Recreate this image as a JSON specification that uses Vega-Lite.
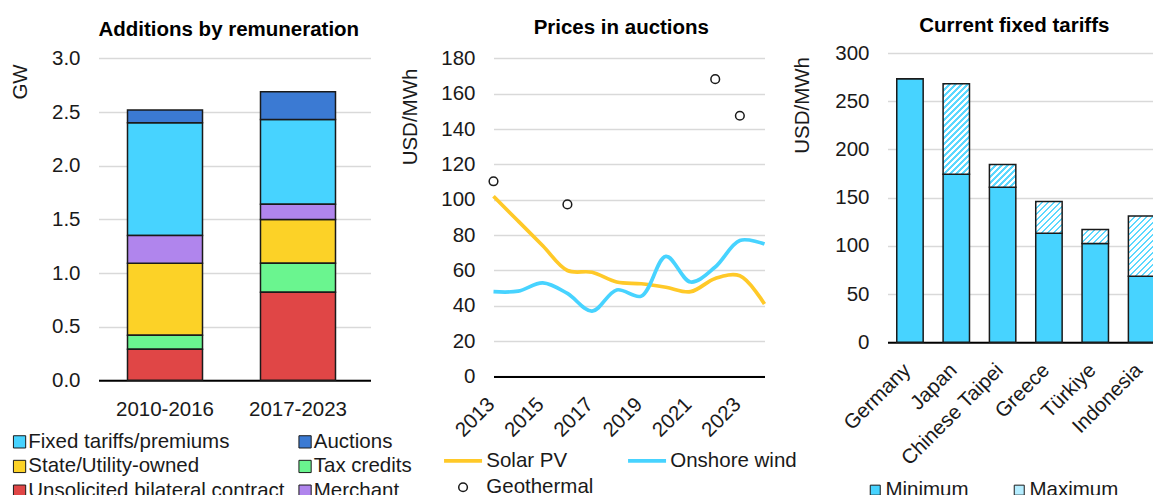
{
  "$schema": "https://vega.github.io/schema/vega-lite/v6.json",
  "padding": {"left": 8.5, "top": 16.1, "right": 0, "bottom": 0},
  "bounds": "flush",
  "spacing": 123,
  "resolve": {"scale": {"color": "independent", "fill": "independent"}, "legend": {"color": "independent", "fill": "independent"}},
  "config": {
    "font": "Liberation Sans",
    "view": {"stroke": null},
    "axis": {"labelFontSize": 20.5, "labelColor": "#1a1a1a", "titleFontSize": 20.5, "titleFontWeight": "normal", "titleColor": "#1a1a1a", "ticks": false, "gridColor": "#D9D9D9", "gridWidth": 1.5, "domainColor": "#000000", "domainWidth": 2, "labelOverlap": false},
    "legend": {"labelFontSize": 20.5, "labelColor": "#1a1a1a", "padding": 0, "labelLimit": 0, "direction": "horizontal"},
    "title": {"fontSize": 20.5, "fontWeight": "bold", "color": "#000000", "anchor": "middle", "frame": "group", "baseline": "alphabetic"}
  },
  "hconcat": [
    {
      "width": 272,
      "height": 327.2,
      "title": {"text": "Additions by remuneration", "offset": 7.9, "dx": -5.7},
      "data": {"values": [
        {"period": "2010-2016", "type": "Fixed tariffs/premiums", "gw": 1.05},
        {"period": "2010-2016", "type": "Auctions", "gw": 0.12},
        {"period": "2010-2016", "type": "State/Utility-owned", "gw": 0.67},
        {"period": "2010-2016", "type": "Tax credits", "gw": 0.13},
        {"period": "2010-2016", "type": "Unsolicited bilateral contract", "gw": 0.29},
        {"period": "2010-2016", "type": "Merchant", "gw": 0.26},
        {"period": "2017-2023", "type": "Fixed tariffs/premiums", "gw": 0.79},
        {"period": "2017-2023", "type": "Auctions", "gw": 0.26},
        {"period": "2017-2023", "type": "State/Utility-owned", "gw": 0.41},
        {"period": "2017-2023", "type": "Tax credits", "gw": 0.27},
        {"period": "2017-2023", "type": "Unsolicited bilateral contract", "gw": 0.82},
        {"period": "2017-2023", "type": "Merchant", "gw": 0.14}
      ]},
      "mark": {"type": "bar", "stroke": "#1a1a1a", "strokeWidth": 1.5},
      "encoding": {
        "x": {"field": "period", "type": "nominal", "scale": {"paddingInner": 0.436, "paddingOuter": 0.2406, "align": 0.453}, "axis": {"title": null, "labelAngle": 0, "labelPadding": 19, "grid": false, "domain": true}},
        "y": {"field": "gw", "type": "quantitative", "stack": "zero", "scale": {"domain": [0, 3.05], "nice": false}, "axis": {"title": "GW", "values": [0, 0.5, 1, 1.5, 2, 2.5, 3], "format": ".1f", "labelPadding": 18.5, "titlePadding": 21, "titleAnchor": "end", "titleY": 10.7, "domain": false, "grid": true}},
        "color": {"field": "type", "type": "nominal",
          "sort": ["Fixed tariffs/premiums", "Auctions", "State/Utility-owned", "Tax credits", "Unsolicited bilateral contract", "Merchant"],
          "scale": {"domain": ["Fixed tariffs/premiums", "Auctions", "State/Utility-owned", "Tax credits", "Unsolicited bilateral contract", "Merchant"], "range": ["#47D3FF", "#3B7AD3", "#FCD227", "#6AF58F", "#E04646", "#B085ED"]},
          "legend": {"title": null, "orient": "none", "direction": "horizontal", "legendX": -89.2, "legendY": 378.4, "columns": 2, "symbolType": "square", "symbolSize": 150, "symbolStrokeColor": "#1a1a1a", "symbolStrokeWidth": 1, "symbolOpacity": 1, "rowPadding": 3.7, "columnPadding": 9.5, "labelOffset": -1.5}}
      }
    },
    {
      "width": 271,
      "height": 323.4,
      "title": {"text": "Prices in auctions", "offset": 9.6, "dx": -7.7},
      "encoding": {
        "x": {"field": "year", "type": "quantitative", "scale": {"domain": [2013, 2024], "nice": false, "zero": false}, "axis": {"title": null, "values": [2013, 2015, 2017, 2019, 2021, 2023], "format": "d", "labelAngle": -45, "labelPadding": 17.4, "labelOffset": -9.6, "labelFlush": false, "grid": false, "domain": true}},
        "y": {"field": "price", "type": "quantitative", "scale": {"domain": [0, 183.06], "nice": false}, "axis": {"title": "USD/MWh", "values": [0, 20, 40, 60, 80, 100, 120, 140, 160, 180], "labelPadding": 18.5, "titlePadding": 20.5, "titleAnchor": "end", "titleY": 15, "domain": false, "grid": true}},
        "color": {"field": "series", "type": "nominal",
          "scale": {"domain": ["Solar PV", "Onshore wind", "Geothermal"], "range": ["#FFC928", "#47D3FF", "#1a1a1a"]},
          "legend": {"title": null, "orient": "none", "direction": "horizontal", "legendX": -40.7, "legendY": 397.4, "columns": 2, "symbolType": "stroke", "symbolSize": 1444, "symbolStrokeWidth": 3.7, "rowPadding": 5.5, "columnPadding": 26, "labelOffset": 13,
            "encode": {"symbols": {"update": {
              "shape": {"signal": "datum.value === 'Geothermal' ? 'circle' : 'stroke'"},
              "size": {"signal": "datum.value === 'Geothermal' ? 75 : 1444"},
              "strokeWidth": {"signal": "datum.value === 'Geothermal' ? 1.5 : 3.7"},
              "fill": {"value": "transparent"},
              "opacity": {"value": 1}
            }}}}}
      },
      "layer": [
        {
          "data": {"values": [
            {"year": 2013, "series": "Solar PV", "price": 102},
            {"year": 2014, "series": "Solar PV", "price": 88},
            {"year": 2015, "series": "Solar PV", "price": 74},
            {"year": 2016, "series": "Solar PV", "price": 60},
            {"year": 2017, "series": "Solar PV", "price": 59},
            {"year": 2018, "series": "Solar PV", "price": 53.5},
            {"year": 2019, "series": "Solar PV", "price": 52.5},
            {"year": 2020, "series": "Solar PV", "price": 50.5},
            {"year": 2021, "series": "Solar PV", "price": 48},
            {"year": 2022, "series": "Solar PV", "price": 55.5},
            {"year": 2023, "series": "Solar PV", "price": 57},
            {"year": 2024, "series": "Solar PV", "price": 41},
            {"year": 2013, "series": "Onshore wind", "price": 48},
            {"year": 2014, "series": "Onshore wind", "price": 48.3},
            {"year": 2015, "series": "Onshore wind", "price": 53},
            {"year": 2016, "series": "Onshore wind", "price": 47},
            {"year": 2017, "series": "Onshore wind", "price": 37},
            {"year": 2018, "series": "Onshore wind", "price": 49},
            {"year": 2019, "series": "Onshore wind", "price": 45.5},
            {"year": 2020, "series": "Onshore wind", "price": 68},
            {"year": 2021, "series": "Onshore wind", "price": 53.5},
            {"year": 2022, "series": "Onshore wind", "price": 62},
            {"year": 2023, "series": "Onshore wind", "price": 77},
            {"year": 2024, "series": "Onshore wind", "price": 75}
          ]},
          "mark": {"type": "line", "interpolate": "catmull-rom", "strokeWidth": 3.7}
        },
        {
          "data": {"values": [
            {"year": 2013, "series": "Geothermal", "price": 110.5},
            {"year": 2016, "series": "Geothermal", "price": 97.4},
            {"year": 2022, "series": "Geothermal", "price": 168.3},
            {"year": 2023, "series": "Geothermal", "price": 147.6}
          ]},
          "mark": {"type": "point", "filled": false, "size": 75, "strokeWidth": 1.5, "opacity": 1}
        }
      ]
    },
    {
      "width": 267.3,
      "height": 289.2,
      "title": {"text": "Current fixed tariffs", "offset": 6.1, "dx": -6.8},
      "data": {"values": [
        {"country": "Germany", "series": "Minimum", "usd": 273.5},
        {"country": "Germany", "series": "Maximum", "usd": 0},
        {"country": "Japan", "series": "Minimum", "usd": 174.4},
        {"country": "Japan", "series": "Maximum", "usd": 93.8},
        {"country": "Chinese Taipei", "series": "Minimum", "usd": 160.9},
        {"country": "Chinese Taipei", "series": "Maximum", "usd": 23.5},
        {"country": "Greece", "series": "Minimum", "usd": 113.1},
        {"country": "Greece", "series": "Maximum", "usd": 32.9},
        {"country": "Türkiye", "series": "Minimum", "usd": 102.4},
        {"country": "Türkiye", "series": "Maximum", "usd": 14.6},
        {"country": "Indonesia", "series": "Minimum", "usd": 68.5},
        {"country": "Indonesia", "series": "Maximum", "usd": 62.6}
      ]},
      "mark": {"type": "bar", "stroke": "#1a1a1a", "strokeWidth": 1.5},
      "encoding": {
        "x": {"field": "country", "type": "nominal", "sort": ["Germany", "Japan", "Chinese Taipei", "Greece", "Türkiye", "Indonesia"], "scale": {"paddingInner": 0.43, "paddingOuter": 0.1, "align": 1}, "axis": {"title": null, "labelAngle": -45, "labelPadding": 17.4, "labelOffset": -9.6, "grid": false, "domain": true}},
        "y": {"field": "usd", "type": "quantitative", "stack": "zero", "scale": {"domain": [0, 300], "nice": false}, "axis": {"title": "USD/MWh", "values": [0, 50, 100, 150, 200, 250, 300], "labelPadding": 18.5, "titlePadding": 22.5, "titleAnchor": "end", "titleY": 3.4, "domain": false, "grid": true}},
        "order": {"field": "series", "sort": "descending"},
        "fill": {"field": "series", "type": "nominal", "sort": ["Minimum", "Maximum"],
          "scale": {"domain": ["Minimum", "Maximum"], "range": ["#47D3FF", "#B5EDFF"]},
          "condition": [
            {"test": "datum.series === 'Maximum' && datum.country === 'Japan'", "value": {"gradient": "linear", "x1": 0, "y1": 0, "x2": 0.3477, "y2": 1.1906, "stops": [
              {"offset": 0, "color": "#5CD8FF"}, {"offset": 0.0206, "color": "#5CD8FF"}, {"offset": 0.0206, "color": "#FFFFFF"}, {"offset": 0.0514, "color": "#FFFFFF"},
              {"offset": 0.0514, "color": "#5CD8FF"}, {"offset": 0.0719, "color": "#5CD8FF"}, {"offset": 0.0719, "color": "#FFFFFF"}, {"offset": 0.1027, "color": "#FFFFFF"},
              {"offset": 0.1027, "color": "#5CD8FF"}, {"offset": 0.1233, "color": "#5CD8FF"}, {"offset": 0.1233, "color": "#FFFFFF"}, {"offset": 0.1541, "color": "#FFFFFF"},
              {"offset": 0.1541, "color": "#5CD8FF"}, {"offset": 0.1747, "color": "#5CD8FF"}, {"offset": 0.1747, "color": "#FFFFFF"}, {"offset": 0.2055, "color": "#FFFFFF"},
              {"offset": 0.2055, "color": "#5CD8FF"}, {"offset": 0.2260, "color": "#5CD8FF"}, {"offset": 0.2260, "color": "#FFFFFF"}, {"offset": 0.2569, "color": "#FFFFFF"},
              {"offset": 0.2569, "color": "#5CD8FF"}, {"offset": 0.2774, "color": "#5CD8FF"}, {"offset": 0.2774, "color": "#FFFFFF"}, {"offset": 0.3082, "color": "#FFFFFF"},
              {"offset": 0.3082, "color": "#5CD8FF"}, {"offset": 0.3288, "color": "#5CD8FF"}, {"offset": 0.3288, "color": "#FFFFFF"}, {"offset": 0.3596, "color": "#FFFFFF"},
              {"offset": 0.3596, "color": "#5CD8FF"}, {"offset": 0.3801, "color": "#5CD8FF"}, {"offset": 0.3801, "color": "#FFFFFF"}, {"offset": 0.4110, "color": "#FFFFFF"},
              {"offset": 0.4110, "color": "#5CD8FF"}, {"offset": 0.4315, "color": "#5CD8FF"}, {"offset": 0.4315, "color": "#FFFFFF"}, {"offset": 0.4623, "color": "#FFFFFF"},
              {"offset": 0.4623, "color": "#5CD8FF"}, {"offset": 0.4829, "color": "#5CD8FF"}, {"offset": 0.4829, "color": "#FFFFFF"}, {"offset": 0.5137, "color": "#FFFFFF"},
              {"offset": 0.5137, "color": "#5CD8FF"}, {"offset": 0.5343, "color": "#5CD8FF"}, {"offset": 0.5343, "color": "#FFFFFF"}, {"offset": 0.5651, "color": "#FFFFFF"},
              {"offset": 0.5651, "color": "#5CD8FF"}, {"offset": 0.5856, "color": "#5CD8FF"}, {"offset": 0.5856, "color": "#FFFFFF"}, {"offset": 0.6164, "color": "#FFFFFF"},
              {"offset": 0.6164, "color": "#5CD8FF"}, {"offset": 0.6370, "color": "#5CD8FF"}, {"offset": 0.6370, "color": "#FFFFFF"}, {"offset": 0.6678, "color": "#FFFFFF"},
              {"offset": 0.6678, "color": "#5CD8FF"}, {"offset": 0.6884, "color": "#5CD8FF"}, {"offset": 0.6884, "color": "#FFFFFF"}, {"offset": 0.7192, "color": "#FFFFFF"},
              {"offset": 0.7192, "color": "#5CD8FF"}, {"offset": 0.7397, "color": "#5CD8FF"}, {"offset": 0.7397, "color": "#FFFFFF"}, {"offset": 0.7706, "color": "#FFFFFF"},
              {"offset": 0.7706, "color": "#5CD8FF"}, {"offset": 0.7911, "color": "#5CD8FF"}, {"offset": 0.7911, "color": "#FFFFFF"}, {"offset": 0.8219, "color": "#FFFFFF"},
              {"offset": 0.8219, "color": "#5CD8FF"}, {"offset": 0.8425, "color": "#5CD8FF"}, {"offset": 0.8425, "color": "#FFFFFF"}, {"offset": 0.8733, "color": "#FFFFFF"},
              {"offset": 0.8733, "color": "#5CD8FF"}, {"offset": 0.8938, "color": "#5CD8FF"}, {"offset": 0.8938, "color": "#FFFFFF"}, {"offset": 0.9247, "color": "#FFFFFF"},
              {"offset": 0.9247, "color": "#5CD8FF"}, {"offset": 0.9452, "color": "#5CD8FF"}, {"offset": 0.9452, "color": "#FFFFFF"}, {"offset": 0.9760, "color": "#FFFFFF"},
              {"offset": 0.9760, "color": "#5CD8FF"}, {"offset": 0.9966, "color": "#5CD8FF"}, {"offset": 0.9966, "color": "#FFFFFF"}, {"offset": 1, "color": "#FFFFFF"}
            ]}},
            {"test": "datum.series === 'Maximum' && datum.country === 'Chinese Taipei'", "value": {"gradient": "linear", "x1": 0, "y1": 0, "x2": 1.070, "y2": 0.918, "stops": [
              {"offset": 0, "color": "#5CD8FF"}, {"offset": 0.0489, "color": "#5CD8FF"}, {"offset": 0.0489, "color": "#FFFFFF"}, {"offset": 0.1223, "color": "#FFFFFF"},
              {"offset": 0.1223, "color": "#5CD8FF"}, {"offset": 0.1712, "color": "#5CD8FF"}, {"offset": 0.1712, "color": "#FFFFFF"}, {"offset": 0.2446, "color": "#FFFFFF"},
              {"offset": 0.2446, "color": "#5CD8FF"}, {"offset": 0.2935, "color": "#5CD8FF"}, {"offset": 0.2935, "color": "#FFFFFF"}, {"offset": 0.3669, "color": "#FFFFFF"},
              {"offset": 0.3669, "color": "#5CD8FF"}, {"offset": 0.4158, "color": "#5CD8FF"}, {"offset": 0.4158, "color": "#FFFFFF"}, {"offset": 0.4892, "color": "#FFFFFF"},
              {"offset": 0.4892, "color": "#5CD8FF"}, {"offset": 0.5381, "color": "#5CD8FF"}, {"offset": 0.5381, "color": "#FFFFFF"}, {"offset": 0.6115, "color": "#FFFFFF"},
              {"offset": 0.6115, "color": "#5CD8FF"}, {"offset": 0.6604, "color": "#5CD8FF"}, {"offset": 0.6604, "color": "#FFFFFF"}, {"offset": 0.7338, "color": "#FFFFFF"},
              {"offset": 0.7338, "color": "#5CD8FF"}, {"offset": 0.7827, "color": "#5CD8FF"}, {"offset": 0.7827, "color": "#FFFFFF"}, {"offset": 0.8561, "color": "#FFFFFF"},
              {"offset": 0.8561, "color": "#5CD8FF"}, {"offset": 0.9050, "color": "#5CD8FF"}, {"offset": 0.9050, "color": "#FFFFFF"}, {"offset": 0.9784, "color": "#FFFFFF"},
              {"offset": 0.9784, "color": "#5CD8FF"}, {"offset": 1, "color": "#5CD8FF"}
            ]}},
            {"test": "datum.series === 'Maximum' && datum.country === 'Greece'", "value": {"gradient": "linear", "x1": 0, "y1": 0, "x2": 0.901, "y2": 1.082, "stops": [
              {"offset": 0, "color": "#5CD8FF"}, {"offset": 0.0413, "color": "#5CD8FF"}, {"offset": 0.0413, "color": "#FFFFFF"}, {"offset": 0.1033, "color": "#FFFFFF"},
              {"offset": 0.1033, "color": "#5CD8FF"}, {"offset": 0.1446, "color": "#5CD8FF"}, {"offset": 0.1446, "color": "#FFFFFF"}, {"offset": 0.2066, "color": "#FFFFFF"},
              {"offset": 0.2066, "color": "#5CD8FF"}, {"offset": 0.2479, "color": "#5CD8FF"}, {"offset": 0.2479, "color": "#FFFFFF"}, {"offset": 0.3099, "color": "#FFFFFF"},
              {"offset": 0.3099, "color": "#5CD8FF"}, {"offset": 0.3512, "color": "#5CD8FF"}, {"offset": 0.3512, "color": "#FFFFFF"}, {"offset": 0.4132, "color": "#FFFFFF"},
              {"offset": 0.4132, "color": "#5CD8FF"}, {"offset": 0.4545, "color": "#5CD8FF"}, {"offset": 0.4545, "color": "#FFFFFF"}, {"offset": 0.5165, "color": "#FFFFFF"},
              {"offset": 0.5165, "color": "#5CD8FF"}, {"offset": 0.5578, "color": "#5CD8FF"}, {"offset": 0.5578, "color": "#FFFFFF"}, {"offset": 0.6198, "color": "#FFFFFF"},
              {"offset": 0.6198, "color": "#5CD8FF"}, {"offset": 0.6611, "color": "#5CD8FF"}, {"offset": 0.6611, "color": "#FFFFFF"}, {"offset": 0.7231, "color": "#FFFFFF"},
              {"offset": 0.7231, "color": "#5CD8FF"}, {"offset": 0.7644, "color": "#5CD8FF"}, {"offset": 0.7644, "color": "#FFFFFF"}, {"offset": 0.8264, "color": "#FFFFFF"},
              {"offset": 0.8264, "color": "#5CD8FF"}, {"offset": 0.8677, "color": "#5CD8FF"}, {"offset": 0.8677, "color": "#FFFFFF"}, {"offset": 0.9297, "color": "#FFFFFF"},
              {"offset": 0.9297, "color": "#5CD8FF"}, {"offset": 0.9710, "color": "#5CD8FF"}, {"offset": 0.9710, "color": "#FFFFFF"}, {"offset": 1, "color": "#FFFFFF"}
            ]}},
            {"test": "datum.series === 'Maximum' && datum.country === 'Türkiye'", "value": {"gradient": "linear", "x1": 0, "y1": 0, "x2": 1.194, "y2": 0.636, "stops": [
              {"offset": 0, "color": "#5CD8FF"}, {"offset": 0.0592, "color": "#5CD8FF"}, {"offset": 0.0592, "color": "#FFFFFF"}, {"offset": 0.148, "color": "#FFFFFF"},
              {"offset": 0.148, "color": "#5CD8FF"}, {"offset": 0.2072, "color": "#5CD8FF"}, {"offset": 0.2072, "color": "#FFFFFF"}, {"offset": 0.296, "color": "#FFFFFF"},
              {"offset": 0.296, "color": "#5CD8FF"}, {"offset": 0.3552, "color": "#5CD8FF"}, {"offset": 0.3552, "color": "#FFFFFF"}, {"offset": 0.444, "color": "#FFFFFF"},
              {"offset": 0.444, "color": "#5CD8FF"}, {"offset": 0.5032, "color": "#5CD8FF"}, {"offset": 0.5032, "color": "#FFFFFF"}, {"offset": 0.592, "color": "#FFFFFF"},
              {"offset": 0.592, "color": "#5CD8FF"}, {"offset": 0.6512, "color": "#5CD8FF"}, {"offset": 0.6512, "color": "#FFFFFF"}, {"offset": 0.740, "color": "#FFFFFF"},
              {"offset": 0.740, "color": "#5CD8FF"}, {"offset": 0.7992, "color": "#5CD8FF"}, {"offset": 0.7992, "color": "#FFFFFF"}, {"offset": 0.888, "color": "#FFFFFF"},
              {"offset": 0.888, "color": "#5CD8FF"}, {"offset": 0.9472, "color": "#5CD8FF"}, {"offset": 0.9472, "color": "#FFFFFF"}, {"offset": 1, "color": "#FFFFFF"}
            ]}},
            {"test": "datum.series === 'Maximum' && datum.country === 'Indonesia'", "value": {"gradient": "linear", "x1": 0, "y1": 0, "x2": 0.528, "y2": 1.206, "stops": [
              {"offset": 0, "color": "#5CD8FF"}, {"offset": 0.0277, "color": "#5CD8FF"}, {"offset": 0.0277, "color": "#FFFFFF"}, {"offset": 0.0692, "color": "#FFFFFF"},
              {"offset": 0.0692, "color": "#5CD8FF"}, {"offset": 0.0969, "color": "#5CD8FF"}, {"offset": 0.0969, "color": "#FFFFFF"}, {"offset": 0.1384, "color": "#FFFFFF"},
              {"offset": 0.1384, "color": "#5CD8FF"}, {"offset": 0.1661, "color": "#5CD8FF"}, {"offset": 0.1661, "color": "#FFFFFF"}, {"offset": 0.2076, "color": "#FFFFFF"},
              {"offset": 0.2076, "color": "#5CD8FF"}, {"offset": 0.2353, "color": "#5CD8FF"}, {"offset": 0.2353, "color": "#FFFFFF"}, {"offset": 0.2768, "color": "#FFFFFF"},
              {"offset": 0.2768, "color": "#5CD8FF"}, {"offset": 0.3045, "color": "#5CD8FF"}, {"offset": 0.3045, "color": "#FFFFFF"}, {"offset": 0.3460, "color": "#FFFFFF"},
              {"offset": 0.3460, "color": "#5CD8FF"}, {"offset": 0.3737, "color": "#5CD8FF"}, {"offset": 0.3737, "color": "#FFFFFF"}, {"offset": 0.4152, "color": "#FFFFFF"},
              {"offset": 0.4152, "color": "#5CD8FF"}, {"offset": 0.4429, "color": "#5CD8FF"}, {"offset": 0.4429, "color": "#FFFFFF"}, {"offset": 0.4844, "color": "#FFFFFF"},
              {"offset": 0.4844, "color": "#5CD8FF"}, {"offset": 0.5121, "color": "#5CD8FF"}, {"offset": 0.5121, "color": "#FFFFFF"}, {"offset": 0.5536, "color": "#FFFFFF"},
              {"offset": 0.5536, "color": "#5CD8FF"}, {"offset": 0.5813, "color": "#5CD8FF"}, {"offset": 0.5813, "color": "#FFFFFF"}, {"offset": 0.6228, "color": "#FFFFFF"},
              {"offset": 0.6228, "color": "#5CD8FF"}, {"offset": 0.6505, "color": "#5CD8FF"}, {"offset": 0.6505, "color": "#FFFFFF"}, {"offset": 0.6920, "color": "#FFFFFF"},
              {"offset": 0.6920, "color": "#5CD8FF"}, {"offset": 0.7197, "color": "#5CD8FF"}, {"offset": 0.7197, "color": "#FFFFFF"}, {"offset": 0.7612, "color": "#FFFFFF"},
              {"offset": 0.7612, "color": "#5CD8FF"}, {"offset": 0.7889, "color": "#5CD8FF"}, {"offset": 0.7889, "color": "#FFFFFF"}, {"offset": 0.8304, "color": "#FFFFFF"},
              {"offset": 0.8304, "color": "#5CD8FF"}, {"offset": 0.8581, "color": "#5CD8FF"}, {"offset": 0.8581, "color": "#FFFFFF"}, {"offset": 0.8996, "color": "#FFFFFF"},
              {"offset": 0.8996, "color": "#5CD8FF"}, {"offset": 0.9273, "color": "#5CD8FF"}, {"offset": 0.9273, "color": "#FFFFFF"}, {"offset": 0.9688, "color": "#FFFFFF"},
              {"offset": 0.9688, "color": "#5CD8FF"}, {"offset": 0.9965, "color": "#5CD8FF"}, {"offset": 0.9965, "color": "#FFFFFF"}, {"offset": 1, "color": "#FFFFFF"}
            ]}}
          ],
          "legend": {"title": null, "orient": "none", "direction": "horizontal", "legendX": -22.5, "legendY": 426.7, "columns": 2, "symbolType": "square", "symbolSize": 100, "symbolStrokeColor": "#1a1a1a", "symbolStrokeWidth": 1, "symbolOpacity": 1, "columnPadding": 40, "labelOffset": 0,
            "encode": {"symbols": {"update": {
              "fill": {"signal": "datum.value === 'Maximum' ? {gradient: 'linear', x1: 0, y1: 0, x2: 1, y2: 1, stops: [{offset: 0, color: '#5CD8FF'}, {offset: 0.12, color: '#5CD8FF'}, {offset: 0.12, color: '#FFFFFF'}, {offset: 0.3, color: '#FFFFFF'}, {offset: 0.3, color: '#5CD8FF'}, {offset: 0.42, color: '#5CD8FF'}, {offset: 0.42, color: '#FFFFFF'}, {offset: 0.6, color: '#FFFFFF'}, {offset: 0.6, color: '#5CD8FF'}, {offset: 0.72, color: '#5CD8FF'}, {offset: 0.72, color: '#FFFFFF'}, {offset: 0.9, color: '#FFFFFF'}, {offset: 0.9, color: '#5CD8FF'}, {offset: 1, color: '#5CD8FF'}]} : '#47D3FF'"},
              "stroke": {"value": "#1a1a1a"},
              "strokeWidth": {"value": 1},
              "opacity": {"value": 1}
            }}}}
        }
      }
    }
  ]
}
